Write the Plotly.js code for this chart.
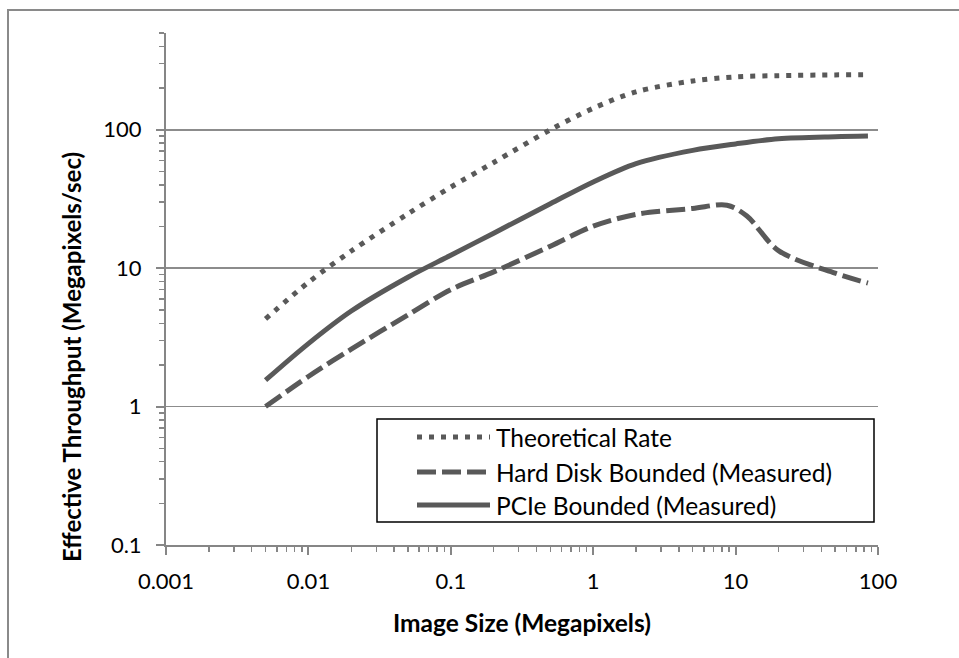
<!DOCTYPE html>
<html>
<head>
<meta charset="utf-8">
<script src="https://cdn.plot.ly/plotly-3.0.1.min.js"></script>
<style>
html,body{margin:0;padding:0;background:#fff;}
#chart{width:959px;height:658px;}
</style>
</head>
<body>
<div id="chart"></div>
<script>
// ---- data ----
const sizes = [0.005, 0.01, 0.02, 0.05, 0.1, 0.2, 0.5, 1, 2, 5, 10, 20, 50, 85];
const theoretical = [4.3, 7.9, 13.3, 24.7, 38.5, 58, 100, 143, 188, 225, 241, 246, 249, 250];
const pcie = [1.55, 2.85, 4.9, 8.6, 12.4, 17.9, 29.2, 42, 57, 71, 79, 86, 89, 90];
const hdSizes = [0.005, 0.01, 0.02, 0.05, 0.1, 0.2, 0.5, 1, 2, 5, 8.7, 12, 20, 50, 85];
const hardDisk = [1.0, 1.65, 2.6, 4.6, 7.0, 9.4, 14.4, 20.1, 24.5, 27, 28.5, 23.8, 13.4, 9.2, 7.8];
const seriesNames = ["Theoretical Rate", "Hard Disk Bounded (Measured)", "PCIe Bounded (Measured)"];
const xTitle = "Image Size (Megapixels)";
const yTitle = "Effective Throughput (Megapixels/sec)";

// ---- layout helpers ----
const W = 959, H = 658;
const M = {l: 166, r: 81, t: 33, b: 113};
const px = x => (x - M.l) / (W - M.l - M.r);
const py = y => (H - M.b - y) / (H - M.t - M.b);

const LC = "#595959";
const LW = 5;
const styles = [
  {dash: "5px,7px"},
  {dash: "19px,6px"},
  {dash: "solid"}
];
const FONT = "Lato, 'Open Sans', sans-serif";

const traces = [
  {x: sizes, y: theoretical, name: seriesNames[0]},
  {x: hdSizes, y: hardDisk, name: seriesNames[1]},
  {x: sizes, y: pcie, name: seriesNames[2]}
].map((t, i) => Object.assign(t, {
  type: "scatter", mode: "lines",
  line: {color: LC, width: LW, dash: styles[i].dash, shape: "spline", smoothing: 0.9},
  showlegend: false, hoverinfo: "x+y"
}));

// manual legend (long line samples like the reference)
const shapes = [
  // chart-area border (left + top visible)
  {type: "rect", xref: "paper", yref: "paper", x0: px(8), x1: px(1000), y0: py(10), y1: py(700),
   line: {color: "#8a8a8a", width: 2}, fillcolor: "rgba(0,0,0,0)", layer: "below"},
  // legend box
  {type: "rect", xref: "paper", yref: "paper", x0: px(377), x1: px(874), y0: py(419), y1: py(522),
   line: {color: "#000", width: 1.5}, fillcolor: "#fff"}
];
const legendRows = [437, 472, 505];
const annotations = [];
seriesNames.forEach((n, i) => {
  shapes.push({type: "line", xref: "paper", yref: "paper",
    x0: px(417), x1: px(490), y0: py(legendRows[i]), y1: py(legendRows[i]),
    line: {color: LC, width: LW, dash: styles[i].dash}});
  annotations.push({xref: "paper", yref: "paper", x: px(494), y: py(legendRows[i]),
    xanchor: "left", yanchor: "middle", showarrow: false, text: n,
    font: {family: FONT, size: 24.5, color: "#000"}});
});
annotations.push({xref: "paper", yref: "paper", x: px(71), y: py(357), textangle: -90,
  xanchor: "center", yanchor: "middle", showarrow: false, text: "<b>" + yTitle + "</b>",
  font: {family: FONT, size: 24, color: "#000"}});
annotations.push({xref: "paper", yref: "paper", x: px(522), y: py(622),
  xanchor: "center", yanchor: "middle", showarrow: false, text: "<b>" + xTitle + "</b>",
  font: {family: FONT, size: 24.5, color: "#000"}});

const axisCommon = {
  type: "log", dtick: 1, showline: true, linecolor: "#868686", linewidth: 2,
  ticks: "outside", ticklen: 8, tickwidth: 2, tickcolor: "#868686",
  tickfont: {family: FONT, size: 22, color: "#000"},
  minor: {dtick: "D1", ticks: "outside", ticklen: 5, tickwidth: 1.5, tickcolor: "#868686", showgrid: false},
  zeroline: false, mirror: false
};

const layout = {
  width: W, height: H,
  margin: M,
  paper_bgcolor: "#fff", plot_bgcolor: "#fff",
  showlegend: false,
  xaxis: Object.assign({}, axisCommon, {
    range: [-3, 2], showgrid: false, ticklabelstandoff: 8
  }),
  yaxis: Object.assign({}, axisCommon, {
    range: [-1, Math.log10(500)], showgrid: true, gridcolor: "#8c8c8c", gridwidth: 1.5,
    ticklabelstandoff: 10
  }),
  shapes: shapes,
  annotations: annotations
};

Plotly.newPlot("chart", traces, layout, {displayModeBar: false, staticPlot: true});
</script>
</body>
</html>
